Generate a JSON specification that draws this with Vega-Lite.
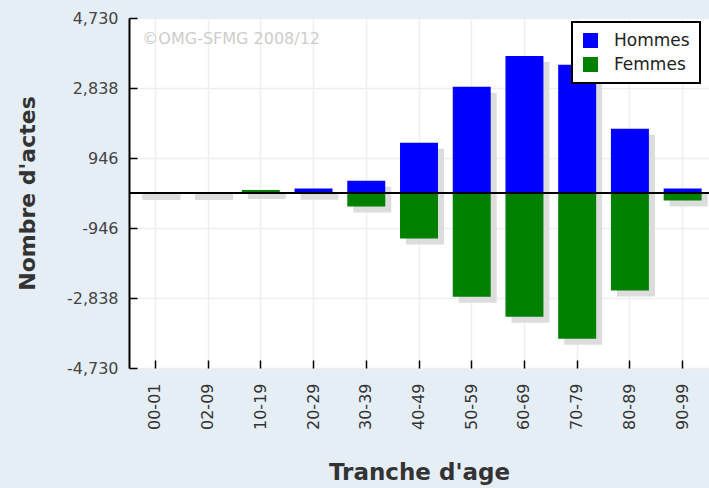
{
  "$schema": "https://vega.github.io/schema/vega-lite/v6.json",
  "width": 580,
  "height": 350,
  "autosize": {"type": "none"},
  "padding": {"left": 129, "top": 18, "right": 0, "bottom": 120},
  "background": "#e5edf5",
  "config": {"view": {"fill": "white", "stroke": null}, "font": "DejaVu Sans"},
  "data": {
    "values": [
      {"age": "00-01", "sexe": "Hommes", "value": 0},
      {"age": "00-01", "sexe": "Femmes", "value": -30},
      {"age": "02-09", "sexe": "Hommes", "value": 0},
      {"age": "02-09", "sexe": "Femmes", "value": -30},
      {"age": "10-19", "sexe": "Hommes", "value": 0},
      {"age": "10-19", "sexe": "Femmes", "value": 80},
      {"age": "20-29", "sexe": "Hommes", "value": 120},
      {"age": "20-29", "sexe": "Femmes", "value": -20},
      {"age": "30-39", "sexe": "Hommes", "value": 330},
      {"age": "30-39", "sexe": "Femmes", "value": -365},
      {"age": "40-49", "sexe": "Hommes", "value": 1357},
      {"age": "40-49", "sexe": "Femmes", "value": -1230},
      {"age": "50-59", "sexe": "Hommes", "value": 2870},
      {"age": "50-59", "sexe": "Femmes", "value": -2806},
      {"age": "60-69", "sexe": "Hommes", "value": 3700},
      {"age": "60-69", "sexe": "Femmes", "value": -3346},
      {"age": "70-79", "sexe": "Hommes", "value": 3465},
      {"age": "70-79", "sexe": "Femmes", "value": -3941},
      {"age": "80-89", "sexe": "Hommes", "value": 1735},
      {"age": "80-89", "sexe": "Femmes", "value": -2635},
      {"age": "90-99", "sexe": "Hommes", "value": 120},
      {"age": "90-99", "sexe": "Femmes", "value": -200}
    ]
  },
  "encoding": {
    "x": {
      "field": "age",
      "type": "nominal",
      "sort": null,
      "scale": {"paddingInner": 0.28, "paddingOuter": 0.14},
      "axis": {
        "title": "Tranche d'age",
        "titleFontSize": 23,
        "titleFontWeight": "bold",
        "titleColor": "#333333",
        "titlePadding": 32,
        "labelAngle": -90,
        "labelFontSize": 16,
        "labelColor": "#333333",
        "labelPadding": 23,
        "domain": false,
        "ticks": true,
        "tickColor": "black",
        "tickSize": -8,
        "tickWidth": 1.5,
        "bandPosition": 0.5,
        "grid": true,
        "gridColor": "#eeeeee",
        "gridWidth": 1.5
      }
    },
    "y": {
      "field": "value",
      "type": "quantitative",
      "stack": null,
      "scale": {"domain": [-4730, 4730], "nice": false, "zero": false},
      "axis": {
        "title": "Nombre d'actes",
        "titleFontSize": 22,
        "titleFontWeight": "bold",
        "titleColor": "#333333",
        "titlePadding": 27,
        "values": [-4730, -2838, -946, 946, 2838, 4730],
        "format": ",d",
        "labelExpr": "replace(datum.label, '\u2212', '-')",
        "labelFontSize": 16,
        "labelColor": "#444444",
        "labelPadding": 19,
        "domainColor": "black",
        "domainWidth": 2,
        "tickColor": "black",
        "tickSize": -8,
        "tickWidth": 1.5,
        "grid": true,
        "gridColor": "#eeeeee",
        "gridWidth": 1.5
      }
    }
  },
  "layer": [
    {
      "mark": {"type": "bar", "color": "#dcdcdc", "xOffset": 6, "x2Offset": 6, "yOffset": 6, "y2Offset": 6}
    },
    {
      "mark": {"type": "bar"},
      "encoding": {
        "color": {
          "field": "sexe",
          "type": "nominal",
          "scale": {"domain": ["Hommes", "Femmes"], "range": ["#0000ff", "#008000"]},
          "legend": {
            "orient": "none",
            "legendX": 443,
            "legendY": 4,
            "title": null,
            "symbolType": "square",
            "symbolSize": 225,
            "symbolStrokeWidth": 0,
            "labelFontSize": 17,
            "labelColor": "#222222",
            "labelOffset": 15,
            "padding": 10,
            "rowPadding": 6,
            "strokeColor": "black",
            "fillColor": "white",
            "encode": {"legend": {"update": {"strokeWidth": {"value": 2}}}}
          }
        }
      }
    },
    {
      "mark": {"type": "rule", "color": "black", "strokeWidth": 2},
      "encoding": {"x": null, "y": {"datum": 0}}
    },
    {
      "transform": [{"filter": "datum.age === '00-01' && datum.sexe === 'Hommes'"}],
      "mark": {"type": "text", "align": "left", "baseline": "middle", "dx": -13, "fontSize": 16, "color": "#cccccc"},
      "encoding": {
        "x": {"field": "age", "type": "nominal"},
        "y": {"datum": 4150},
        "text": {"value": "©OMG-SFMG 2008/12"}
      }
    }
  ]
}
